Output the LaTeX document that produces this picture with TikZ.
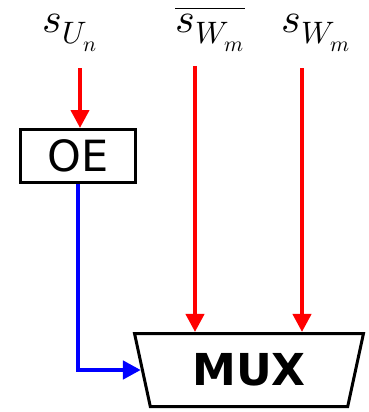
\documentclass[tikz,border=0pt]{standalone}
\usepackage{fontspec}
\usepackage{unicode-math}
\setmathfont{Latin Modern Math}
\setsansfont{DejaVu Sans}
\usetikzlibrary{arrows.meta,positioning,shapes.geometric}
\newcommand{\subtxt}[1]{\mbox{\fontsize{31}{31}\selectfont$#1$}}

\begin{document}
\begin{tikzpicture}[x=1pt,y=-1pt,>={Triangle[length=18pt,width=18pt]},
  lbl/.style={anchor=base,font=\fontsize{42}{48}\selectfont},
  sig/.style={->,line width=4pt,red}]
  \useasboundingbox (0,0) rectangle (368,412);
  \node (su) [lbl] at (70,33) {$s_{\subtxt{U_n}}$};
  \node (swbar) [lbl] at (210,33) {$\overline{s_{\subtxt{W_m}}}$};
  \node (sw) [lbl] at (316,33) {$s_{\subtxt{W_m}}$};
  \node (oe) [draw,line width=3pt,minimum width=115pt,minimum height=53pt,inner sep=0pt,font=\sffamily\fontsize{43}{43}\selectfont] at (78,156) {OE};
  \node (mux) [trapezium,draw,line width=3pt,trapezium left angle=105.5,trapezium right angle=105.5,trapezium stretches,minimum width=229pt,minimum height=73pt,inner sep=0pt,font=\sffamily\bfseries\fontsize{44}{44}\selectfont] at (249,370) {MUX};
  \coordinate (in1) at (80,68);
  \coordinate (in2) at (195,66);
  \coordinate (in3) at (302,68);
  \draw[sig] (in1) -- (in1 |- oe.north);
  \draw[sig] (in2) -- (in2 |- mux.north);
  \draw[sig] (in3) -- (in3 |- mux.north);
  \draw[->,line width=4.5pt,blue] (oe.south) |- (mux.west);
\end{tikzpicture}
\end{document}
